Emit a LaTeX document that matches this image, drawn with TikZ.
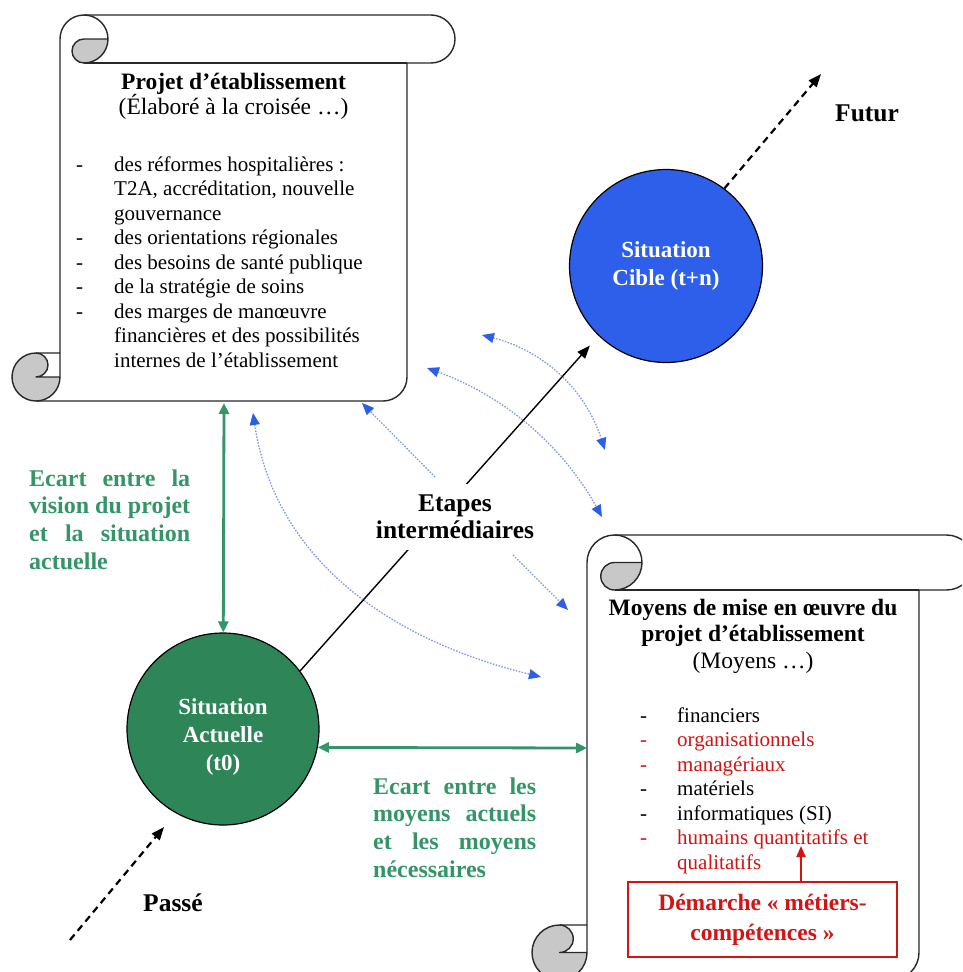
\documentclass[tikz,border=0pt]{standalone}
\usepackage{fontspec}
\setmainfont{Liberation Serif}
\usetikzlibrary{arrows.meta,calc}
\definecolor{cgreen}{RGB}{46,133,87}
\definecolor{tgreen}{RGB}{52,150,104}
\definecolor{cblue}{RGB}{45,95,235}
\definecolor{dblue}{RGB}{130,150,230}
\definecolor{hblue}{RGB}{45,95,230}
\definecolor{cred}{RGB}{210,20,20}
\definecolor{rollgray}{RGB}{200,200,200}
\definecolor{edgegray}{RGB}{40,40,40}

% scroll: #1=left #2=top #3=right #4=bottom (screen px), #5=roll diameter
\newcommand\scrollshape[5]{%
  \pgfmathsetmacro\scL{#1}\pgfmathsetmacro\scT{-(#2)}%
  \pgfmathsetmacro\scR{#3}\pgfmathsetmacro\scB{-(#4)}%
  \pgfmathsetmacro\scC{#5}\pgfmathsetmacro\scH{#5/2}\pgfmathsetmacro\scQ{#5/4}%
  \fill[white] (\scL+\scC, \scB+\scC) -- (\scL+\scC, \scT-\scH)
    arc[start angle=180,end angle=90,radius=\scH pt] -- (\scR-\scH, \scT)
    arc[start angle=90,end angle=-90,radius=\scH pt] -- (\scR-\scC, \scT-\scC)
    -- (\scR-\scC, \scB+\scH) arc[start angle=0,end angle=-90,radius=\scH pt]
    -- (\scL+\scH, \scB) arc[start angle=-90,end angle=-270,radius=\scH pt] -- cycle;
  \fill[rollgray] (\scL+2*\scC, \scT-\scH) arc[start angle=0,end angle=-90,radius=\scH pt]
    arc[start angle=-90,end angle=-270,radius=\scQ pt] -- cycle;
  \fill[rollgray] (\scL+\scC, \scB+\scH) arc[start angle=0,end angle=-270,radius=\scH pt]
    arc[start angle=90,end angle=-90,radius=\scQ pt] -- cycle;
  \draw[scrollline] (\scL+\scC, \scB+\scC) -- (\scL+\scC, \scT-\scH)
    arc[start angle=180,end angle=90,radius=\scH pt] -- (\scR-\scH, \scT)
    arc[start angle=90,end angle=-90,radius=\scH pt] -- (\scR-\scC, \scT-\scC)
    -- (\scR-\scC, \scB+\scH) arc[start angle=0,end angle=-90,radius=\scH pt]
    -- (\scL+\scH, \scB) arc[start angle=-90,end angle=-270,radius=\scH pt] -- cycle;
  \draw[scrollline] (\scL+\scC+\scH, \scT) arc[start angle=90,end angle=-90,radius=\scH pt]
    arc[start angle=-90,end angle=-270,radius=\scQ pt] -- (\scL+2*\scC, \scT-\scH);
  \draw[scrollline] (\scR-\scC, \scT-\scC) -- (\scL+\scC+\scH, \scT-\scC);
  \draw[scrollline] (\scL+\scH, \scB+\scC) arc[start angle=90,end angle=-90,radius=\scQ pt]
    -- (\scL+\scC, \scB+\scH);
  \draw[scrollline] (\scL+\scH, \scB) arc[start angle=-90,end angle=0,radius=\scH pt]
    -- (\scL+\scC, \scB+\scC);
}

\begin{document}
\begin{tikzpicture}[x=1pt,y=1pt,
  scrollline/.style={draw=edgegray, line width=1.4pt, line join=round},
  txt/.style={inner sep=0pt},
  listfont/.style={txt, font=\fontsize{21}{24.5}\selectfont},
  headfont/.style={txt, font=\fontsize{23.5}{26}\selectfont},
  headbold/.style={txt, font=\fontsize{23.5}{26}\selectfont\bfseries},
  labelfont/.style={font=\fontsize{25.5}{27}\selectfont\bfseries},
  greenfont/.style={txt, text=tgreen, font=\fontsize{24}{27.7}\selectfont\bfseries},
  circfont/.style={text=white, font=\fontsize{23}{28}\selectfont\bfseries, align=center},
  blackarrow/.style={draw=black, line width=1.4pt, -{Triangle[length=13pt,width=10pt]}},
  dasharrow/.style={draw=black, line width=2.2pt, dash pattern=on 7pt off 5pt, -{Triangle[length=13pt,width=10pt]}},
  gaparrow/.style={draw=tgreen, line width=2.8pt, {Triangle[length=11pt,width=10pt]}-{Triangle[length=11pt,width=10pt]}},
  dotarrow/.style={draw=dblue, line width=1.3pt, dash pattern=on 1.5pt off 1.5pt},
  onetip/.style={-{Triangle[length=12pt,width=10pt,color=hblue]}},
  twotips/.style={{Triangle[length=12pt,width=10pt,color=hblue]}-{Triangle[length=12pt,width=10pt,color=hblue]}},
  redarrow/.style={draw=cred, line width=1.8pt, -{Triangle[length=11pt,width=9pt]}}
]
\useasboundingbox (0,0) rectangle (962,-972);
\fill[white] (0,0) rectangle (962,-972);
\clip (0,0) rectangle (962,-972);

% scrolls
\scrollshape{12}{15}{455}{401}{48}
\scrollshape{532}{535}{974}{980}{55}

% top scroll text
\node[headbold, anchor=base] (ptitle) at (233.5,-89) {Projet d’établissement};
\node[headfont, anchor=base] (psub) at (233.5,-114) {(Élaboré à la croisée …)};
\node[listfont, anchor=base west] (plist) at (76,-171) {\begin{tabular}[t]{@{}p{38pt}@{}l@{}}
-&des réformes hospitalières :\\
&T2A, accréditation, nouvelle\\
&gouvernance\\
-&des orientations régionales\\
-&des besoins de santé publique\\
-&de la stratégie de soins\\
-&des marges de manœuvre\\
&financières et des possibilités\\
&internes de l’établissement
\end{tabular}};

% bottom scroll text
\node[headbold, anchor=base] (mtitle) at (753,-615) {\begin{tabular}[t]{@{}c@{}}Moyens de mise en œuvre du\\projet d’établissement\end{tabular}};
\node[headfont, anchor=base] (msub) at (753,-668) {(Moyens …)};
\node[listfont, anchor=base west] (mlist) at (640,-722) {\begin{tabular}[t]{@{}p{37pt}@{}l@{}}
-&financiers\\
\textcolor{cred}{-}&\textcolor{cred}{organisationnels}\\
\textcolor{cred}{-}&\textcolor{cred}{managériaux}\\
-&matériels\\
-&informatiques (SI)\\
\textcolor{cred}{-}&\textcolor{cred}{humains quantitatifs et}\\
&\textcolor{cred}{qualitatifs}
\end{tabular}};

% red box
\node[draw=cred, line width=1.5pt, minimum width=269pt, minimum height=75pt, inner sep=0pt,
  text=cred, font=\fontsize{23.5}{30}\selectfont\bfseries, align=center] (dem) at (762.5,-919.5)
  {Démarche «~métiers-\\compétences~»};
\coordinate (humtip) at (801,-846);
\draw[redarrow] (humtip |- dem.north) -- (humtip);

% circles
\node[circle, fill=cgreen, draw=black, line width=1.2pt, minimum size=192pt, inner sep=0pt, circfont] (act) at (223,-729) {\rule{0pt}{32pt}Situation\\Actuelle\\(t0)};
\node[circle, fill=cblue, draw=black, line width=1.2pt, minimum size=193pt, inner sep=0pt, circfont] (cib) at (666,-266) {Situation\\Cible (t+n)};

% main axis
\draw[blackarrow, shorten >=13pt] (act.37) -- (cib.226);
\node[labelfont, fill=white, inner xsep=3pt, inner ysep=11pt, align=center] (etp) at (455,-517) {Etapes\\intermédiaires};

% past / future
\coordinate (paststart) at (70,-940);
\coordinate (pastend) at (164,-827);
\draw[dasharrow] (paststart) -- (pastend);
\coordinate (futend) at (821,-74);
\draw[dasharrow] (cib.53) -- (futend);
\node[labelfont, txt, anchor=base west] (fut) at (835,-121) {Futur};
\node[labelfont, txt, anchor=base west] (pas) at (143,-911) {Passé};

% gaps (green)
\coordinate (projbot) at (224,-403);
\draw[gaparrow] (projbot) -- (act);
\coordinate (moyleft) at (587,-748);
\draw[gaparrow] (act.-11.4) -- (moyleft);
\node[greenfont, anchor=base west] (gap1) at (29,-486) {\begin{tabular}[t]{@{}l@{}}
\makebox[161pt][s]{Ecart entre la}\\
\makebox[161pt][s]{vision du projet}\\
\makebox[161pt][s]{et la situation}\\
actuelle\end{tabular}};
\node[greenfont, anchor=base west] (gap2) at (373,-794) {\begin{tabular}[t]{@{}l@{}}
\makebox[163pt][s]{Ecart entre les}\\
\makebox[163pt][s]{moyens actuels}\\
\makebox[163pt][s]{et les moyens}\\
nécessaires\end{tabular}};

% blue dotted feedback arrows
\coordinate (b1s) at (482,-335);
\coordinate (b1e) at (605,-450);
\draw[dotarrow, twotips] (b1s) .. controls (544,-351) and (585,-389) .. (b1e);
\coordinate (b2s) at (427,-368);
\coordinate (b2e) at (602,-517);
\draw[dotarrow, twotips] (b2s) .. controls (504,-396) and (562,-445) .. (b2e);
\coordinate (b3s) at (435,-477);
\coordinate (b3e) at (362,-403);
\draw[dotarrow, onetip] (b3s) -- (b3e);
\coordinate (b4s) at (513,-555);
\coordinate (b4e) at (568,-610);
\draw[dotarrow, onetip] (b4s) -- (b4e);
\coordinate (b5s) at (253,-413);
\coordinate (b5e) at (541,-677);
\draw[dotarrow, twotips] (b5s) .. controls (275,-560) and (390,-640) .. (b5e);
\end{tikzpicture}
\end{document}
